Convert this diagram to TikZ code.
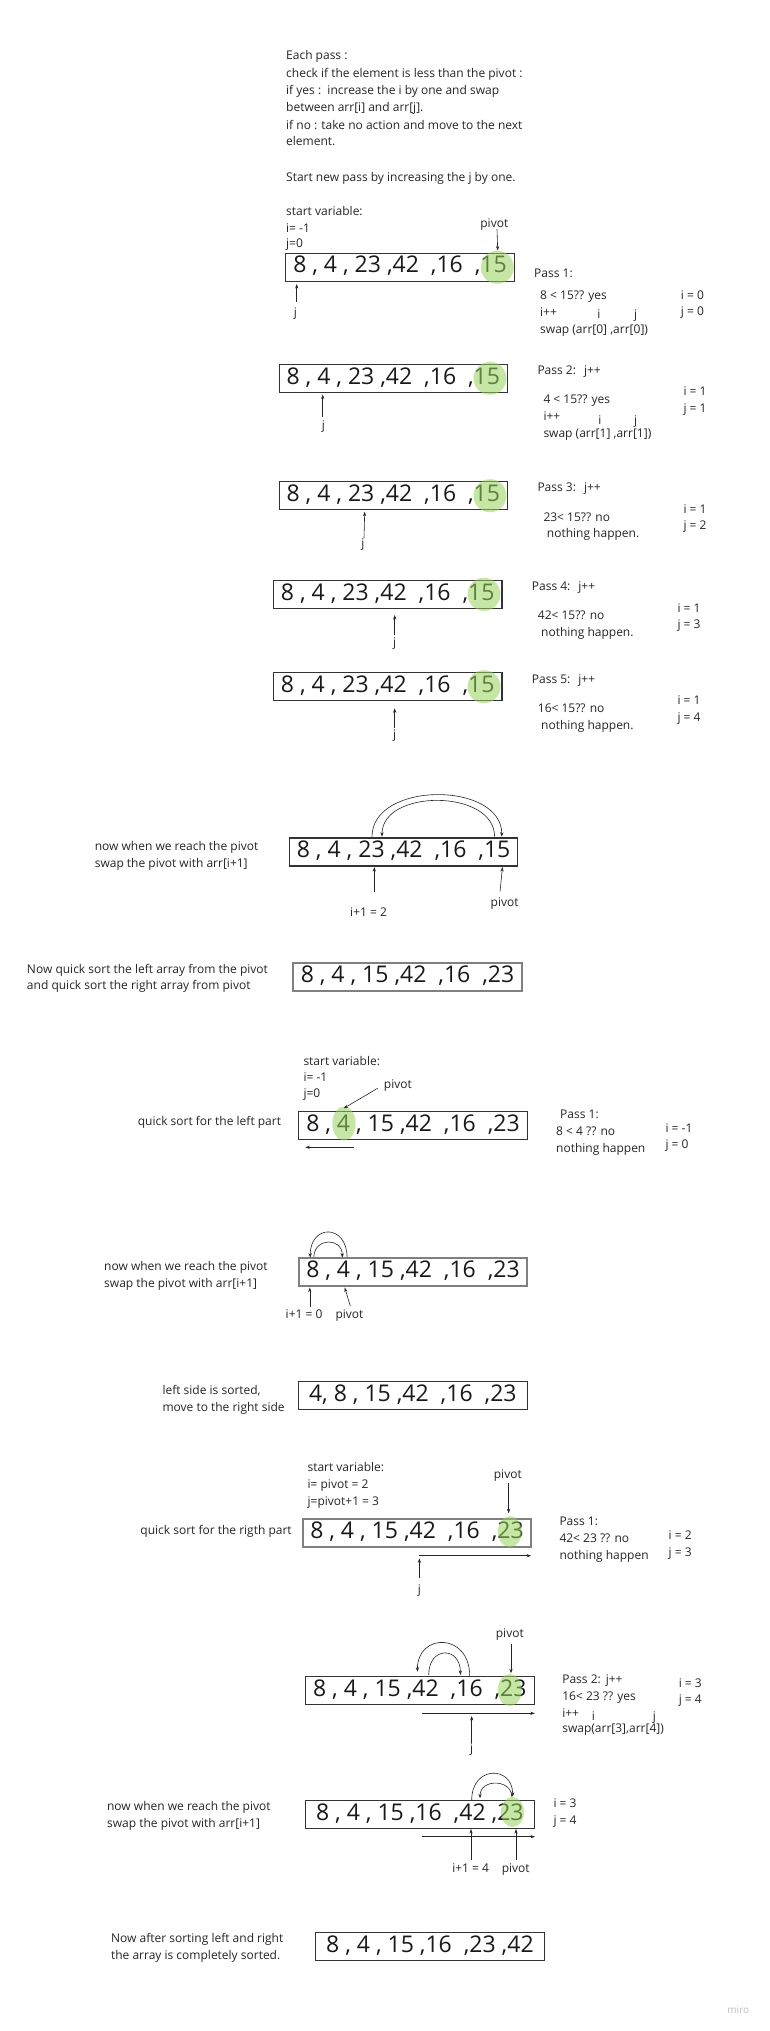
\documentclass[tikz,border=0pt]{standalone}
\usepackage{fontspec}
\setmainfont{Open Sans}
\usetikzlibrary{arrows.meta}
\definecolor{hlgreen}{RGB}{150,210,90}
\begin{document}
\begin{tikzpicture}[x=1pt,y=-1pt,
  lbl/.style={font=\fontsize{12}{14}\selectfont, inner sep=0pt, anchor=base west, text=black!85},
  lblc/.style={lbl, anchor=base},
  abox/.style={draw=black!80, line width=1.1pt, minimum width=228.5pt, inner sep=0pt,
    text height=19.7pt, text depth=8.3pt, font=\fontsize{23}{26}\selectfont, text=black!90},
  gbox/.style={abox, draw=black!50, line width=1.8pt},
  con/.style={-{Stealth[length=4.5pt,width=3.2pt]}, line width=0.6pt, draw=black!85},
  hl/.style={fill=hlgreen, opacity=0.55}]
\fill[white] (0,0) rectangle (769,2031);
\useasboundingbox (0,0) rectangle (769,2031);

% ---------- explanation ----------
\node[lbl] (t1) at (286,60) {Each pass :};
\node[lbl] (t2) at (286,78) {check if the element is less than the pivot :};
\node[lbl] (t3) at (286,95) {if yes :\ \ increase the i by one and swap};
\node[lbl] (t4) at (286,112) {between arr[i] and arr[j].};
\node[lbl] (t5) at (286,129) {if no : take no action and move to the next};
\node[lbl] (t6) at (286,146) {element.};
\node[lbl] (t7) at (286,181) {Start new pass by increasing the j by one.};
\node[lbl] (sv1) at (286,215) {start variable:};
\node[lbl] (sv1i) at (286,232.3) {i= -1};
\node[lbl] (sv1j) at (286,247.3) {j=0};

% ---------- box 1 ----------
\node[abox] (b1) at (400,267.2) {8 , 4 , 23 ,42\ \ ,16\ \ ,15};
\fill[hl] (497.3,267.3) circle[radius=16.5pt];
\node[lblc] (p1) at (494.3,227.6) {pivot};
\coordinate (p1a) at (497,229); \coordinate (p1b) at (497.7,250.5);
\draw[con] (p1a) -- (p1b);
\node[lblc] (j1) at (295.3,316) {j};
\coordinate (j1a) at (296.7,302); \coordinate (j1b) at (296.7,284);
\draw[con] (j1a) -- (j1b);
\node[lbl] (ps1) at (534,277) {Pass 1:};
\node[lbl] (ps1a) at (540,299.3) {8 < 15?? yes};
\node[lbl] (ps1b) at (540,316) {i++};
\node[lbl] (ps1c) at (540,333.3) {swap (arr[0] ,arr[0])};
\node[lblc] (ps1i) at (599,318.3) {i};
\node[lblc] (ps1j) at (635.7,318.3) {j};
\node[lbl] (v1i) at (680.7,299.3) {i = 0};
\node[lbl] (v1j) at (680.7,315) {j = 0};

% ---------- box 2 ----------
\node[abox] (b2) at (393.3,378.3) {8 , 4 , 23 ,42\ \ ,16\ \ ,15};
\fill[hl] (490,378.3) circle[radius=16.5pt];
\node[lblc] (j2) at (323.3,429.3) {j};
\coordinate (j2a) at (322.7,416.7); \coordinate (j2b) at (322.7,394.5);
\draw[con] (j2a) -- (j2b);
\node[lbl] (ps2) at (537.3,374.3) {Pass 2:\hspace{8pt}j++};
\node[lbl] (ps2a) at (543.3,403.3) {4 < 15?? yes};
\node[lbl] (ps2b) at (543.3,420) {i++};
\node[lbl] (ps2c) at (543.3,437.3) {swap (arr[1] ,arr[1])};
\node[lblc] (ps2i) at (600,424.3) {i};
\node[lblc] (ps2j) at (635.7,424.3) {j};
\node[lbl] (v2i) at (683.3,395) {i = 1};
\node[lbl] (v2j) at (683.3,412.6) {j = 1};

% ---------- box 3 ----------
\node[abox] (b3) at (393.3,495.8) {8 , 4 , 23 ,42\ \ ,16\ \ ,15};
\fill[hl] (490,495.7) circle[radius=16.5pt];
\node[lblc] (j3) at (363,547.6) {j};
\coordinate (j3a) at (364,538.3); \coordinate (j3b) at (364.7,511.7);
\draw[con] (j3a) -- (j3b);
\node[lbl] (ps3) at (537.3,491.3) {Pass 3:\hspace{8pt}j++};
\node[lbl] (ps3a) at (543.3,521) {23< 15?? no};
\node[lbl] (ps3b) at (546.7,537) {nothing happen.};
\node[lbl] (v3i) at (683.3,513) {i = 1};
\node[lbl] (v3j) at (683.3,529.3) {j = 2};

% ---------- box 4 ----------
\node[abox] (b4) at (387.7,594.3) {8 , 4 , 23 ,42\ \ ,16\ \ ,15};
\fill[hl] (484,594.3) circle[radius=16.5pt];
\node[lblc] (j4) at (394.7,646) {j};
\coordinate (j4a) at (394.7,635); \coordinate (j4b) at (394.7,615);
\draw[con] (j4a) -- (j4b);
\node[lbl] (ps4) at (531.7,590.3) {Pass 4:\hspace{8pt}j++};
\node[lbl] (ps4a) at (537.7,619.3) {42< 15?? no};
\node[lbl] (ps4b) at (541,636.3) {nothing happen.};
\node[lbl] (v4i) at (677.3,612) {i = 1};
\node[lbl] (v4j) at (677.3,628.3) {j = 3};

% ---------- box 5 ----------
\node[abox] (b5) at (387.7,686.8) {8 , 4 , 23 ,42\ \ ,16\ \ ,15};
\fill[hl] (484,686.7) circle[radius=16.5pt];
\node[lblc] (j5) at (394.7,738.6) {j};
\coordinate (j5a) at (394.7,728.3); \coordinate (j5b) at (394.7,708.3);
\draw[con] (j5a) -- (j5b);
\node[lbl] (ps5) at (531.7,683.3) {Pass 5:\hspace{8pt}j++};
\node[lbl] (ps5a) at (537.7,712) {16< 15?? no};
\node[lbl] (ps5b) at (541,729) {nothing happen.};
\node[lbl] (v5i) at (677.3,704) {i = 1};
\node[lbl] (v5j) at (677.3,721) {j = 4};

% ---------- box 6: swap pivot ----------
\node[lbl] (n6a) at (94.6,850.3) {now when we reach the pivot};
\node[lbl] (n6b) at (94.6,867.6) {swap the pivot with arr[i+1]};
\node[abox] (b6) at (403.6,852) {8 , 4 , 23 ,42\ \ ,16\ \ ,15};
\coordinate (c6a) at (372,836.7); \coordinate (c6b) at (501.8,836.7);
\coordinate (c6c) at (494.6,836.7); \coordinate (c6d) at (382,836.7);
\draw[con] (c6a) .. controls (372,781) and (501.8,781) .. (c6b);
\draw[con] (c6c) .. controls (494.6,788.7) and (382,788.7) .. (c6d);
\node[lblc] (i6) at (368.6,916) {i+1 = 2};
\coordinate (i6a) at (374.3,891.7); \coordinate (i6b) at (374.3,867);
\draw[con] (i6a) -- (i6b);
\node[lblc] (p6) at (504.6,906.6) {pivot};
\coordinate (p6a) at (500,891.7); \coordinate (p6b) at (502.5,867);
\draw[con] (p6a) -- (p6b);

% ---------- box 7 ----------
\node[lbl] (n7a) at (26.8,973.3) {Now quick sort the left array from the pivot};
\node[lbl] (n7b) at (26.8,989.3) {and quick sort the right array from pivot};
\node[gbox] (b7) at (407.5,976.8) {8 , 4 , 15 ,42\ \ ,16\ \ ,23};

% ---------- box 8: left part ----------
\node[lbl] (sv8) at (303.3,1065) {start variable:};
\node[lbl] (sv8i) at (303.3,1081) {i= -1};
\node[lbl] (sv8j) at (303.3,1097.6) {j=0};
\node[lbl] (p8) at (383.7,1088.6) {pivot};
\node[lbl] (n8) at (137.6,1125.3) {quick sort for the left part};
\node[abox] (b8) at (413,1125.5) {8 , 4 , 15 ,42\ \ ,16\ \ ,23};
\fill[hl] (344,1123.5) ellipse[x radius=11.6pt, y radius=17pt];
\coordinate (p8a) at (377.6,1088.3); \coordinate (p8b) at (343.7,1108.3);
\draw[con] (p8a) -- (p8b);
\coordinate (l8a) at (353.9,1147.3); \coordinate (l8b) at (305.3,1147.3);
\draw[con] (l8a) -- (l8b);
\node[lbl] (ps8) at (560,1118.3) {Pass 1:};
\node[lbl] (ps8a) at (556,1135.3) {8 < 4 ?? no};
\node[lbl] (ps8b) at (556,1152) {nothing happen};
\node[lbl] (v8i) at (665.3,1132.6) {i = -1};
\node[lbl] (v8j) at (665.3,1148.6) {j = 0};

% ---------- box 9 ----------
\node[lbl] (n9a) at (104,1270.3) {now when we reach the pivot};
\node[lbl] (n9b) at (104,1287.6) {swap the pivot with arr[i+1]};
\node[gbox] (b9) at (413,1271.8) {8 , 4 , 15 ,42\ \ ,16\ \ ,23};
\coordinate (c9a) at (347.1,1257.7); \coordinate (c9b) at (310.2,1257.7);
\coordinate (c9c) at (313.8,1257.7); \coordinate (c9d) at (342.3,1257.7);
\draw[con] (c9a) .. controls (347.1,1223.8) and (310.2,1223.8) .. (c9b);
\draw[con] (c9c) .. controls (313.8,1237.2) and (342.3,1237.2) .. (c9d);
\node[lblc] (i9) at (304.1,1318.3) {i+1 = 0};
\coordinate (i9a) at (309.8,1306.7); \coordinate (i9b) at (309.8,1287.5);
\draw[con] (i9a) -- (i9b);
\node[lblc] (p9) at (349.5,1318.3) {pivot};
\coordinate (p9a) at (350.3,1306); \coordinate (p9b) at (344.7,1287.5);
\draw[con] (p9a) -- (p9b);

% ---------- box 10 ----------
\node[lbl] (n10a) at (162.3,1394.3) {left side is sorted,};
\node[lbl] (n10b) at (162.3,1411) {move to the right side};
\node[abox] (b10) at (412.8,1395.5) {4, 8 , 15 ,42\ \ ,16\ \ ,23};

% ---------- box 11: right part ----------
\node[lbl] (sv11) at (307.4,1471.6) {start variable:};
\node[lbl] (sv11i) at (307.4,1488.6) {i= pivot = 2};
\node[lbl] (sv11j) at (307.4,1505) {j=pivot+1 = 3};
\node[lblc] (p11) at (507.8,1478.6) {pivot};
\node[lbl] (n11) at (140.2,1534.3) {quick sort for the rigth part};
\node[gbox] (b11) at (417,1533) {8 , 4 , 15 ,42\ \ ,16\ \ ,23};
\fill[hl] (509.8,1531.7) ellipse[x radius=12pt, y radius=15.5pt];
\coordinate (p11a) at (508.6,1483.3); \coordinate (p11b) at (508.6,1513.3);
\draw[con] (p11a) -- (p11b);
\coordinate (r11a) at (419.4,1555.7); \coordinate (r11b) at (531.1,1555.7);
\draw[con] (r11a) -- (r11b);
\node[lblc] (j11) at (419.4,1593.6) {j};
\coordinate (j11a) at (419.4,1578.3); \coordinate (j11b) at (419.4,1558.3);
\draw[con] (j11a) -- (j11b);
\node[lbl] (ps11) at (559.3,1525) {Pass 1:};
\node[lbl] (ps11a) at (559.3,1542) {42< 23 ?? no};
\node[lbl] (ps11b) at (559.3,1559.3) {nothing happen};
\node[lbl] (v11i) at (668.5,1539.3) {i = 2};
\node[lbl] (v11j) at (668.5,1556) {j = 3};

% ---------- box 12 ----------
\node[lblc] (p12) at (509.8,1637.6) {pivot};
\node[abox] (b12) at (419.8,1690.8) {8 , 4 , 15 ,42\ \ ,16\ \ ,23};
\fill[hl] (509.8,1690) ellipse[x radius=12pt, y radius=16pt];
\coordinate (p12a) at (511,1644.3); \coordinate (p12b) at (511,1673.3);
\draw[con] (p12a) -- (p12b);
\coordinate (c12a) at (469.7,1676); \coordinate (c12b) at (417.4,1671.7);
\coordinate (c12c) at (428.7,1675); \coordinate (c12d) at (460.4,1675);
\draw[con] (c12a) .. controls (469.7,1632.4) and (417.4,1632.4) .. (c12b);
\draw[con] (c12c) .. controls (428.7,1646) and (460.4,1646) .. (c12d);
\coordinate (r12a) at (421.5,1713.3); \coordinate (r12b) at (534.8,1713.3);
\draw[con] (r12a) -- (r12b);
\node[lblc] (j12) at (471.7,1752.6) {j};
\coordinate (j12a) at (471.7,1743.3); \coordinate (j12b) at (471.7,1716);
\draw[con] (j12a) -- (j12b);
\node[lbl] (ps12) at (562.1,1683.6) {Pass 2:\hspace{5pt}j++};
\node[lbl] (ps12a) at (562.1,1700.3) {16< 23 ?? yes};
\node[lbl] (ps12b) at (562.1,1717.6) {i++};
\node[lblc] (ps12i) at (593.4,1720) {i};
\node[lblc] (ps12j) at (654.5,1720) {j};
\node[lbl] (ps12c) at (562.1,1732) {swap(arr[3],arr[4])};
\node[lbl] (v12i) at (678.6,1687) {i = 3};
\node[lbl] (v12j) at (678.6,1703.6) {j = 4};

% ---------- box 13 ----------
\node[lbl] (n13a) at (106.9,1810) {now when we reach the pivot};
\node[lbl] (n13b) at (106.9,1827.6) {swap the pivot with arr[i+1]};
\node[abox] (b13) at (419.8,1814.5) {8 , 4 , 15 ,16\ \ ,42 ,23};
\fill[hl] (512.5,1812) ellipse[x radius=11.5pt, y radius=15pt];
\coordinate (c13a) at (471.7,1800); \coordinate (c13b) at (512.7,1796.7);
\coordinate (c13c) at (511.7,1796.7); \coordinate (c13d) at (480,1798.3);
\draw[con] (c13a) .. controls (471.7,1765.3) and (512.7,1765.3) .. (c13b);
\draw[con] (c13c) .. controls (511.7,1778.7) and (480,1778.7) .. (c13d);
\coordinate (r13a) at (421.5,1836.7); \coordinate (r13b) at (535,1836.7);
\draw[con] (r13a) -- (r13b);
\node[lblc] (i13) at (470.7,1872) {i+1 = 4};
\coordinate (i13a) at (471,1860); \coordinate (i13b) at (471,1829);
\draw[con] (i13a) -- (i13b);
\node[lblc] (p13) at (515.7,1872) {pivot};
\coordinate (p13a) at (516,1860); \coordinate (p13b) at (516,1829);
\draw[con] (p13a) -- (p13b);
\node[lbl] (v13i) at (553.3,1807.6) {i = 3};
\node[lbl] (v13j) at (553.3,1824.3) {j = 4};

% ---------- box 14 ----------
\node[lbl] (n14a) at (110.9,1942) {Now after sorting left and right};
\node[lbl] (n14b) at (110.9,1959.3) {the array is completely sorted.};
\node[abox] (b14) at (429.9,1946.3) {8 , 4 , 15 ,16\ \ ,23 ,42};

% watermark
\node[font=\fontsize{10}{12}\selectfont, text=black!25, inner sep=0pt, anchor=base] (miro) at (738.3,2013) {miro};
\end{tikzpicture}
\end{document}
